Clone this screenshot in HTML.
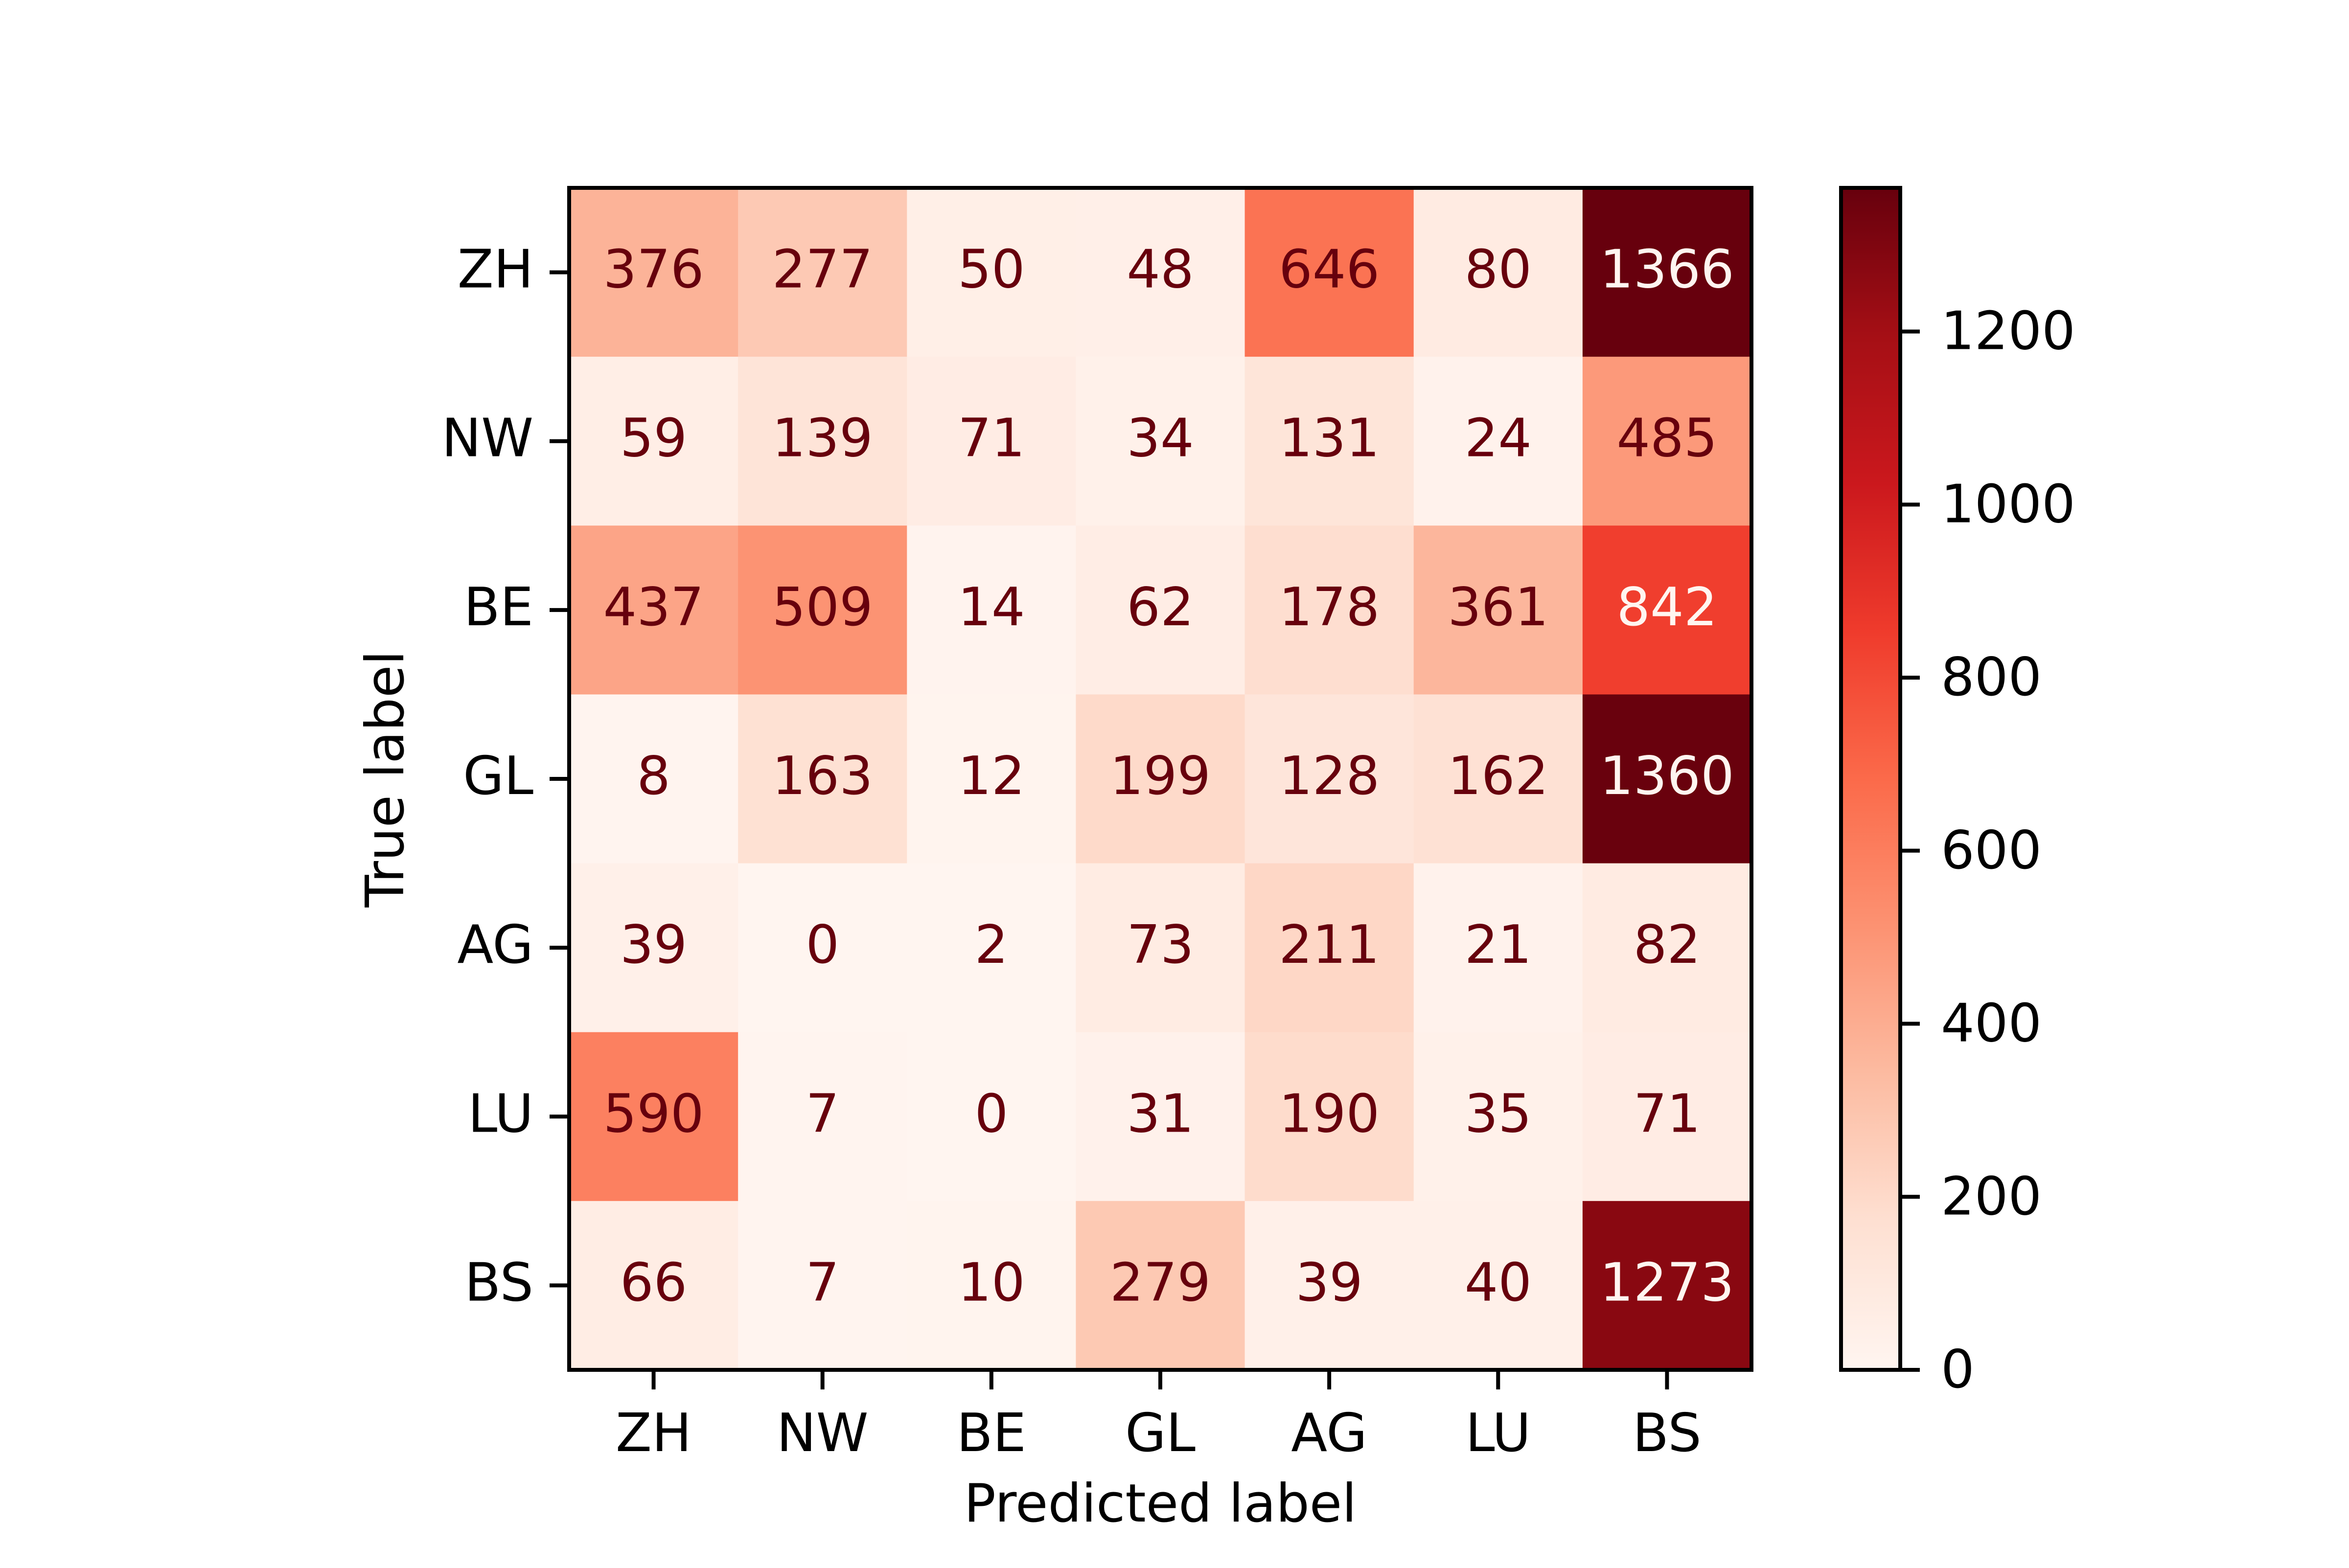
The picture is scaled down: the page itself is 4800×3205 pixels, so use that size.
<!DOCTYPE html>
<html><head><meta charset="utf-8"><style>
html,body{margin:0;padding:0;background:#fff}
svg text{font-family:"DejaVu Sans","Liberation Sans",sans-serif}
</style></head><body>
<svg id="chart" width="4800" height="3200" viewBox="0 0 4800 3200" xmlns="http://www.w3.org/2000/svg">
<rect width="4800" height="3200" fill="#fff"/>
<defs><linearGradient id="cbg" x1="0" y1="1" x2="0" y2="0">
<stop offset="0" stop-color="#fff5f0"/><stop offset="0.125" stop-color="#fee0d2"/><stop offset="0.25" stop-color="#fcbba1"/><stop offset="0.375" stop-color="#fc9272"/><stop offset="0.5" stop-color="#fb6a4a"/><stop offset="0.625" stop-color="#ef3b2c"/><stop offset="0.75" stop-color="#cb181d"/><stop offset="0.875" stop-color="#a50f15"/><stop offset="1" stop-color="#67000d"/>
</linearGradient></defs>
<g id="cells"></g>
<g id="axes"></g>
</svg>
<script>
const trueLabels = ["ZH","NW","BE","GL","AG","LU","BS"];
const predLabels = ["ZH","NW","BE","GL","AG","LU","BS"];
const row0 = [376,277,50,48,646,80,1366];
const row1 = [59,139,71,34,131,24,485];
const row2 = [437,509,14,62,178,361,842];
const row3 = [8,163,12,199,128,162,1360];
const row4 = [39,0,2,73,211,21,82];
const row5 = [590,7,0,31,190,35,71];
const row6 = [66,7,10,279,39,40,1273];
const matrix = [row0,row1,row2,row3,row4,row5,row6];
const cbTicks = [0,200,400,600,800,1000,1200];

const NS="http://www.w3.org/2000/svg";
const L=1163, T=384, S=2416, n=predLabels.length, cw=S/n;
const vmin=0;
const vmax=Math.max(...matrix.flat());
const stops=[[255,245,240],[254,224,210],[252,187,161],[252,146,114],[251,106,74],[239,59,44],[203,24,29],[165,15,21],[103,0,13]];
function cmap(t){t=Math.max(0,Math.min(1,t));const p=t*8,i=Math.min(7,Math.floor(p)),f=p-i;
 const c=stops[i].map((v,k)=>Math.round(v+(stops[i+1][k]-v)*f));return `rgb(${c[0]},${c[1]},${c[2]})`;}
const xPos=j=>L+cw*(j+0.5), yPos=i=>T+cw*(i+0.5);
function mk(tag,attrs,parent,txt){const e=document.createElementNS(NS,tag);for(const k in attrs)e.setAttribute(k,attrs[k]);if(txt!==undefined)e.textContent=txt;parent.appendChild(e);return e;}
const cells=document.getElementById('cells'), ax=document.getElementById('axes');
const thr=(vmax+vmin)/2;
matrix.forEach((row,i)=>row.forEach((v,j)=>{
 const r=mk('rect',{x:L+cw*j,y:T+cw*i,width:cw+0.5,height:cw+0.5,fill:cmap((v-vmin)/(vmax-vmin))},cells);
 
 
 const t=mk('text',{x:xPos(j),y:yPos(i)+31,'text-anchor':'middle','font-size':108,fill:v>thr?cmap(0):cmap(1)},cells,String(v));
 
 
}));
const frame=mk('rect',{x:L,y:T,width:S,height:S,fill:'none',stroke:'#000','stroke-width':8},ax);


predLabels.forEach((lab,j)=>{
 const tk=mk('line',{x1:xPos(j),x2:xPos(j),y1:T+S,y2:T+S+40,stroke:'#000','stroke-width':8},ax);
 
 
 const t=mk('text',{x:xPos(j),y:2966,'text-anchor':'middle','font-size':108,fill:'#000'},ax,lab);
 
 
});
trueLabels.forEach((lab,i)=>{
 const tk=mk('line',{x1:L-40,x2:L,y1:yPos(i),y2:yPos(i),stroke:'#000','stroke-width':8},ax);
 
 
 const t=mk('text',{x:L-73,y:yPos(i)+31,'text-anchor':'end','font-size':108,fill:'#000'},ax,lab);
 
 
});
const xt=mk('text',{x:L+S/2,y:3110,'text-anchor':'middle','font-size':108,fill:'#000'},ax,'Predicted label');


const yt=mk('text',{x:0,y:0,'text-anchor':'middle','font-size':108,fill:'#000',transform:`translate(824,${T+S/2}) rotate(-90)`},ax,'True label');


const cbL=3762, cbW=121;
const cb=mk('rect',{x:cbL,y:T,width:cbW,height:S,fill:'url(#cbg)',stroke:'#000','stroke-width':8},ax);


const cy=v=>T+S-(v-vmin)/(vmax-vmin)*S;
cbTicks.forEach(v=>{
 const tk=mk('line',{x1:cbL+cbW,x2:cbL+cbW+40,y1:cy(v),y2:cy(v),stroke:'#000','stroke-width':8},ax);
 
 
 const t=mk('text',{x:3966,y:cy(v)+36,'text-anchor':'start','font-size':108,fill:'#000'},ax,String(v));
 
 
});
</script>
</body></html>
